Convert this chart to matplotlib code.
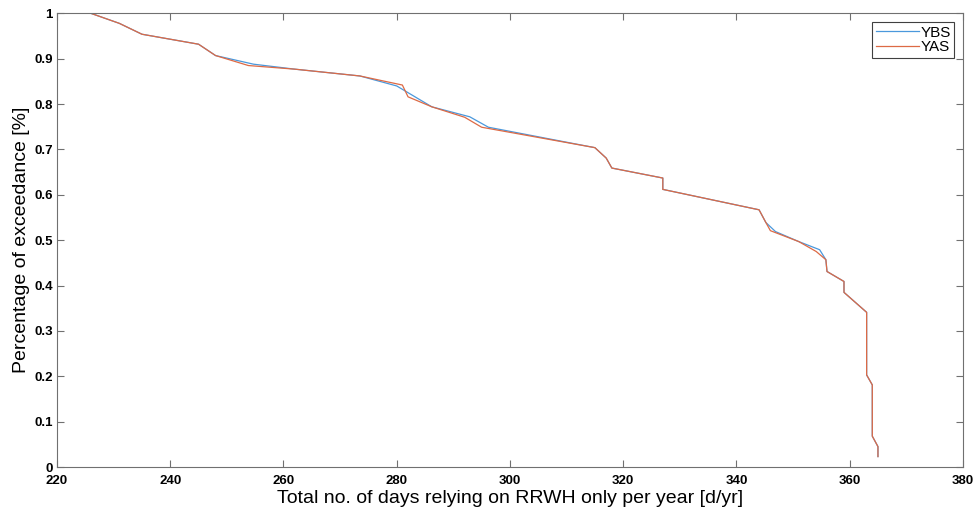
import matplotlib.pyplot as plt

# exceedance curves
ybs_days = [226, 231, 235, 245, 248, 254.7, 262, 273.5, 280, 286.2, 292.9, 296.2,
            315, 317, 318, 327, 327, 344, 345.2, 346.9, 351, 354.7, 355.8, 356,
            359, 359, 363, 363, 364, 364, 365, 365]
ybs_exc = [1.0, 0.978, 0.954, 0.932, 0.907, 0.888, 0.877, 0.862, 0.840, 0.794, 0.772, 0.749,
           0.704, 0.681, 0.659, 0.637, 0.612, 0.567, 0.539, 0.519, 0.497, 0.479, 0.457, 0.431,
           0.409, 0.385, 0.341, 0.203, 0.181, 0.068, 0.045, 0.023]

yas_days = [226, 231, 235, 245, 248, 253.8, 262, 273.5, 281, 282, 286.2, 292, 295,
            315, 317, 318, 327, 327, 344, 345.2, 346, 351, 354.1, 355.8, 356,
            359, 359, 363, 363, 364, 364, 365, 365]
yas_exc = [1.0, 0.978, 0.954, 0.932, 0.907, 0.885, 0.877, 0.862, 0.842, 0.816, 0.794, 0.771, 0.749,
           0.704, 0.681, 0.659, 0.637, 0.612, 0.567, 0.539, 0.521, 0.497, 0.475, 0.457, 0.431,
           0.409, 0.385, 0.341, 0.203, 0.181, 0.068, 0.045, 0.023]

xticks = list(range(220, 381, 20))
yticks = [0, 0.1, 0.2, 0.3, 0.4, 0.5, 0.6, 0.7, 0.8, 0.9, 1]
ytick_labels = ['0', '0.1', '0.2', '0.3', '0.4', '0.5', '0.6', '0.7', '0.8', '0.9', '1']

plt.rcParams['font.family'] = ['Liberation Sans', 'DejaVu Sans']

fig = plt.figure(figsize=(9.73, 5.14), dpi=100)
ax = fig.add_axes([0.0586, 0.0914, 0.931, 0.8826])

ax.plot(ybs_days, ybs_exc, color='#4a98dc', lw=0.9, label='YBS')
ax.plot(yas_days, yas_exc, color='#dd6a45', lw=0.9, label='YAS')

ax.set_xlim(220, 380)
ax.set_ylim(0, 1)
ax.set_xticks(xticks)
ax.set_yticks(yticks)
ax.set_yticklabels(ytick_labels)
ax.tick_params(direction='in', top=True, right=True, length=5, width=0.8,
               color='#707070', labelsize=9.5)
ax.tick_params(axis='x', pad=6)
ax.tick_params(axis='y', pad=3)
for lab in ax.get_xticklabels() + ax.get_yticklabels():
    lab.set_fontweight('bold')
for s in ax.spines.values():
    s.set_color('#707070')
    s.set_linewidth(0.8)

ax.set_xlabel('Total no. of days relying on RRWH only per year [d/yr]', fontsize=14, labelpad=2)
ax.set_ylabel('Percentage of exceedance [%]', fontsize=14, labelpad=3)

leg = ax.legend(loc='upper right', fontsize=11, fancybox=False, framealpha=1,
                edgecolor='#404040', handlelength=2.8, handletextpad=0.1,
                borderpad=0.25, labelspacing=0.05, borderaxespad=0.55)
leg.get_frame().set_linewidth(0.8)

fig.savefig('out.png', dpi=100)
